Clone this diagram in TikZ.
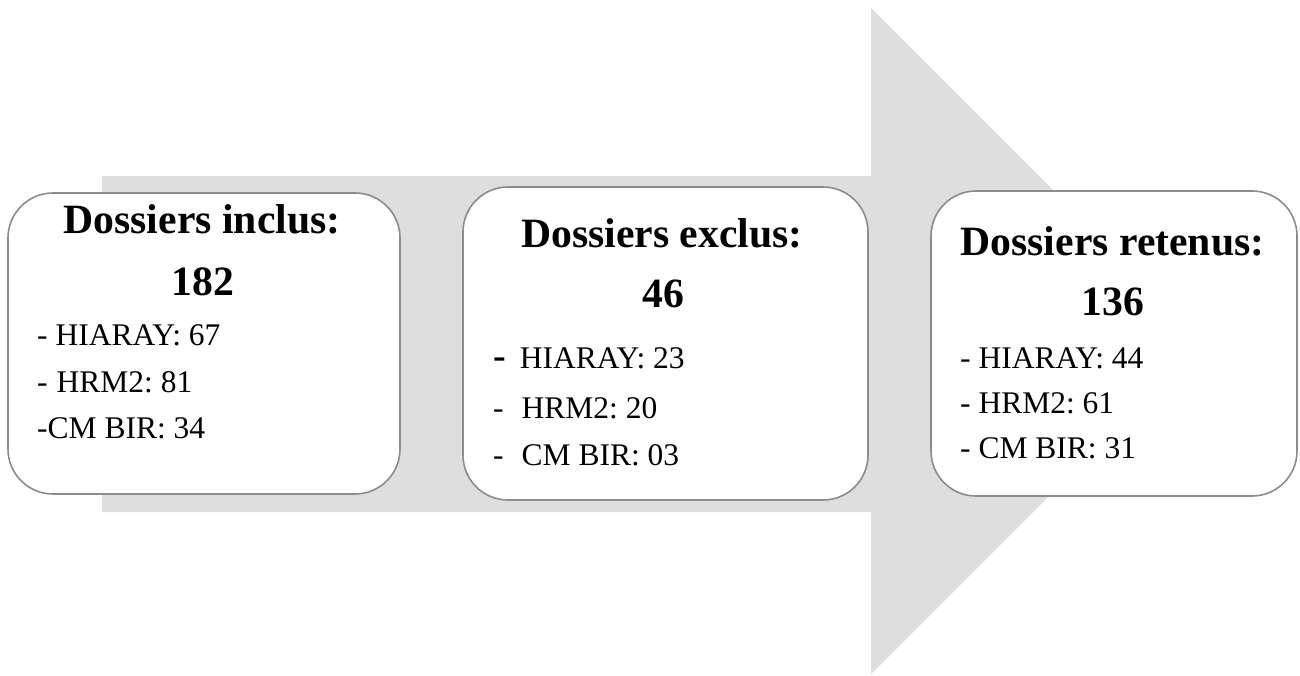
\documentclass[tikz,border=0pt]{standalone}
\usepackage{fontspec}
\setmainfont{Liberation Serif}
\frenchspacing
\definecolor{arrowgray}{HTML}{DEDEDE}
\definecolor{boxgray}{HTML}{8C8C8C}
\tikzset{
  box/.style={draw=boxgray, line width=1.6pt, fill=white, rounded corners=45pt, inner sep=0pt},
  titletext/.style={anchor=base, inner sep=0pt, font=\fontsize{41.7}{50}\selectfont\bfseries},
  bodytext/.style={anchor=base west, inner sep=0pt, font=\fontsize{31.5}{36}\selectfont\frenchspacing}
}
\begin{document}
\begin{tikzpicture}[x=1pt,y=-1pt]
\useasboundingbox (0,0) rectangle (1300,675);
% big arrow
\fill[arrowgray] (102,176) -- (871,176) -- (871,8) -- (1204,341) -- (871,674) -- (871,512) -- (102,512) -- cycle;
% boxes
\node[box, minimum width=392pt, minimum height=301pt] (b1) at (204,343.5) {};
\node[box, minimum width=405pt, minimum height=313pt] (b2) at (665.5,343.5) {};
\node[box, minimum width=366pt, minimum height=305pt] (b3) at (1114,343.5) {};
% box 1
\node[titletext] (t1) at (202,233) {Dossiers inclus:};
\node[titletext] (n1) at (203,295) {182};
\node[bodytext] (l11) at (37,345) {- HIARAY: 67};
\node[bodytext] (l12) at (37,392) {-\hspace{9pt}HRM2: 81};
\node[bodytext] (l13) at (37,438) {-CM BIR: 34};
% box 2
\node[titletext] (t2) at (662,247) {Dossiers exclus:};
\node[titletext] (n2) at (663,307) {46};
\node[bodytext] (l21) at (493,368) {{\fontsize{38}{40}\selectfont\bfseries -}\hspace{14pt}HIARAY: 23};
\node[bodytext] (l22) at (493,418) {-\hspace{18pt}HRM2: 20};
\node[bodytext] (l23) at (493,465) {-\hspace{18pt}CM BIR: 03};
% box 3
\node[titletext] (t3) at (1112.5,255) {Dossiers retenus:};
\node[titletext] (n3) at (1113,315) {136};
\node[bodytext] (l31) at (960,368) {- HIARAY: 44};
\node[bodytext] (l32) at (960,413) {- HRM2: 61};
\node[bodytext] (l33) at (960,458) {- CM BIR: 31};
\end{tikzpicture}
\end{document}
